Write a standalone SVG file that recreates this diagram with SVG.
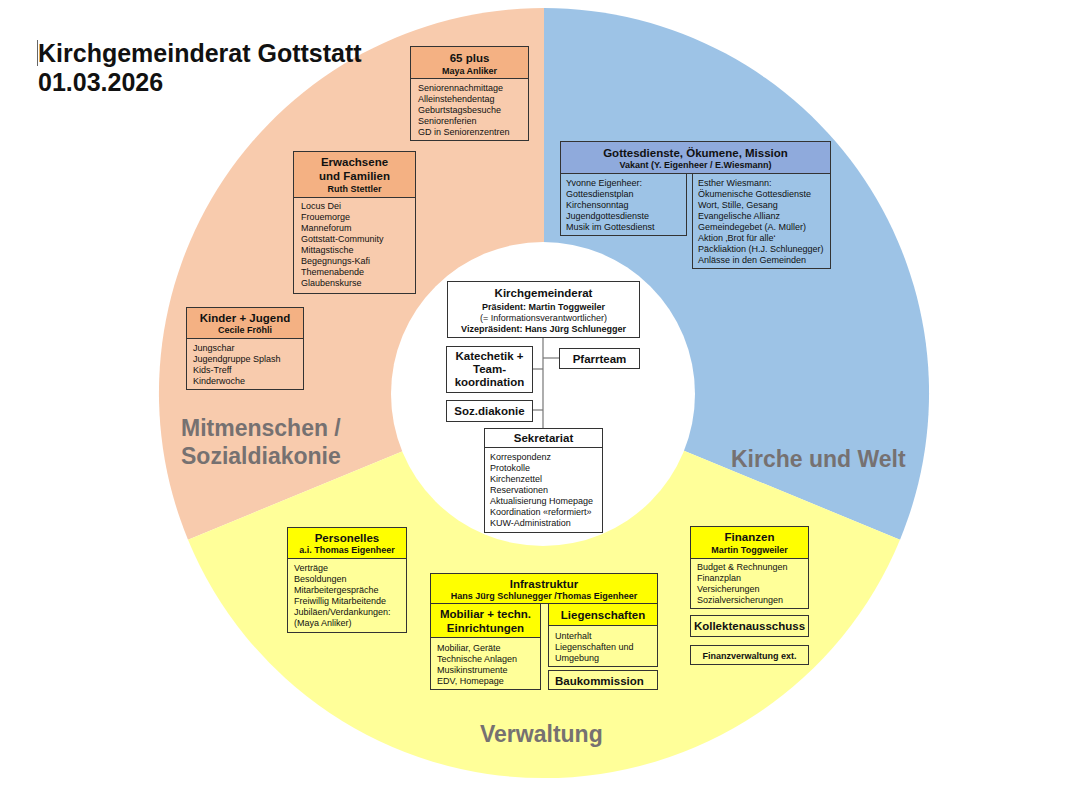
<svg xmlns="http://www.w3.org/2000/svg" width="1080" height="800" viewBox="0 0 1080 800">
<style>
text{font-family:"Liberation Sans",Arial,sans-serif;fill:#111}
.t{font-size:25px;font-weight:bold}
.ring{font-size:23px;font-weight:bold;fill:#767171}
.h{font-size:11.5px;font-weight:bold;text-anchor:middle}
.s{font-size:9px;font-weight:bold;text-anchor:middle}
.sn{font-size:9px;text-anchor:middle}
.b{font-size:9px}
.hl{font-size:11.5px;font-weight:bold}
.bx{stroke:#333;stroke-width:1}
.org{fill:#F4B183}
.orb{fill:#F8CBAD}
.blh{fill:#8FAADC}
.blb{fill:#9DC3E6}
.yeh{fill:#FFFF00}
.yeb{fill:#FFFF99}
.wh{fill:#fff}
.con{stroke:#777;stroke-width:1.2;fill:none}
</style>
<rect width="1080" height="800" fill="#fff"/>
<g id="ring">
<path d="M544,393 L544,8 A385,385 0 0,0 188,539.7 Z" fill="#F8CBAD"/>
<path d="M544,393 L544,8 A385,385 0 0,1 900,539.7 Z" fill="#9DC3E6"/>
<path d="M544,393 L188,539.7 A385,385 0 0,0 900,539.7 Z" fill="#FFFF99"/>
<circle cx="543" cy="394" r="152" fill="#fff"/>
<text class="ring" x="181" y="436">Mitmenschen /</text>
<text class="ring" x="181" y="464">Sozialdiakonie</text>
<text class="ring" x="731" y="467">Kirche und Welt</text>
<text class="ring" x="480" y="742">Verwaltung</text>
</g>
<g id="title">
<line x1="37.5" y1="40" x2="37.5" y2="66" stroke="#666" stroke-width="1"/>
<text class="t" x="38" y="62">Kirchgemeinderat Gottstatt</text>
<text class="t" x="38" y="91">01.03.2026</text>
</g>
<g id="connectors">
<line class="con" x1="543" y1="337" x2="543" y2="428"/>
<line class="con" x1="532" y1="369" x2="543" y2="369"/>
<line class="con" x1="543" y1="358" x2="559" y2="358"/>
<line class="con" x1="532" y1="410" x2="543" y2="410"/>
</g>
<g id="n65plus">
<rect class="bx org" x="410.5" y="46.5" width="118" height="32"/>
<rect class="bx orb" x="410.5" y="78.5" width="118" height="62"/>
<text class="h" x="469.5" y="62">65 plus</text>
<text class="s" x="469.5" y="74">Maya Anliker</text>
<text class="b" x="418" y="91">Seniorennachmittage</text>
<text class="b" x="418" y="102">Alleinstehendentag</text>
<text class="b" x="418" y="113">Geburtstagsbesuche</text>
<text class="b" x="418" y="124">Seniorenferien</text>
<text class="b" x="418" y="135">GD in Seniorenzentren</text>
</g>
<g id="erwachsene">
<rect class="bx org" x="293.5" y="151.5" width="122" height="46"/>
<rect class="bx orb" x="293.5" y="197.5" width="122" height="96"/>
<text class="h" x="354.5" y="166">Erwachsene</text>
<text class="h" x="354.5" y="180">und Familien</text>
<text class="s" x="354.5" y="192">Ruth Stettler</text>
<text class="b" x="301" y="209">Locus Dei</text>
<text class="b" x="301" y="220">Frouemorge</text>
<text class="b" x="301" y="231">Manneforum</text>
<text class="b" x="301" y="242">Gottstatt-Community</text>
<text class="b" x="301" y="253">Mittagstische</text>
<text class="b" x="301" y="264">Begegnungs-Kafi</text>
<text class="b" x="301" y="275">Themenabende</text>
<text class="b" x="301" y="286">Glaubenskurse</text>
</g>
<g id="kinder">
<rect class="bx org" x="186.5" y="307.5" width="117" height="31"/>
<rect class="bx orb" x="186.5" y="338.5" width="117" height="51"/>
<text class="h" x="245" y="322">Kinder + Jugend</text>
<text class="s" x="245" y="333">Cecile Fröhli</text>
<text class="b" x="193" y="351">Jungschar</text>
<text class="b" x="193" y="362">Jugendgruppe Splash</text>
<text class="b" x="193" y="373">Kids-Treff</text>
<text class="b" x="193" y="384">Kinderwoche</text>
</g>
<g id="gottesdienste">
<rect class="bx blh" x="560.5" y="141.5" width="270" height="32"/>
<rect class="bx blb" x="560.5" y="173.5" width="126" height="62"/>
<rect class="bx blb" x="692.5" y="173.5" width="138" height="95"/>
<text class="h" x="695.5" y="157">Gottesdienste, Ökumene, Mission</text>
<text class="s" x="695.5" y="168">Vakant (Y. Eigenheer / E.Wiesmann)</text>
<text class="b" x="566" y="186">Yvonne Eigenheer:</text>
<text class="b" x="566" y="197">Gottesdienstplan</text>
<text class="b" x="566" y="208">Kirchensonntag</text>
<text class="b" x="566" y="219">Jugendgottesdienste</text>
<text class="b" x="566" y="230">Musik im Gottesdienst</text>
<text class="b" x="698" y="186">Esther Wiesmann:</text>
<text class="b" x="698" y="197">Ökumenische Gottesdienste</text>
<text class="b" x="698" y="208">Wort, Stille, Gesang</text>
<text class="b" x="698" y="219">Evangelische Allianz</text>
<text class="b" x="698" y="230">Gemeindegebet (A. Müller)</text>
<text class="b" x="698" y="241">Aktion ‚Brot für alle‘</text>
<text class="b" x="698" y="252">Päckliaktion (H.J. Schlunegger)</text>
<text class="b" x="698" y="263">Anlässe in den Gemeinden</text>
</g>
<g id="kirchgemeinderat">
<rect class="bx wh" x="447.5" y="281.5" width="192" height="56"/>
<text class="h" x="543.5" y="297">Kirchgemeinderat</text>
<text class="s" x="543.5" y="310">Präsident: Martin Toggweiler</text>
<text class="sn" x="543.5" y="321">(= Informationsverantwortlicher)</text>
<text class="s" x="543.5" y="332">Vizepräsident: Hans Jürg Schlunegger</text>
</g>
<g id="katechetik">
<rect class="bx wh" x="446.5" y="346.5" width="86" height="46"/>
<text class="h" x="489.5" y="360">Katechetik +</text>
<text class="h" x="489.5" y="373">Team-</text>
<text class="h" x="489.5" y="386">koordination</text>
</g>
<g id="pfarrteam">
<rect class="bx wh" x="559.5" y="348.5" width="80" height="20"/>
<text class="h" x="599.5" y="362.5">Pfarrteam</text>
</g>
<g id="sozdiakonie">
<rect class="bx wh" x="446.5" y="400.5" width="86" height="21"/>
<text class="h" x="489.5" y="415">Soz.diakonie</text>
</g>
<g id="sekretariat">
<rect class="bx wh" x="484.5" y="428.5" width="118" height="104"/>
<line class="bx" x1="484.5" y1="447.5" x2="602.5" y2="447.5"/>
<text class="h" x="543.5" y="442">Sekretariat</text>
<text class="b" x="490" y="460">Korrespondenz</text>
<text class="b" x="490" y="471">Protokolle</text>
<text class="b" x="490" y="482">Kirchenzettel</text>
<text class="b" x="490" y="493">Reservationen</text>
<text class="b" x="490" y="504">Aktualisierung Homepage</text>
<text class="b" x="490" y="515">Koordination «reformiert»</text>
<text class="b" x="490" y="526">KUW-Administration</text>
</g>
<g id="personelles">
<rect class="bx yeh" x="287.5" y="527.5" width="119" height="31"/>
<rect class="bx yeb" x="287.5" y="558.5" width="119" height="74"/>
<text class="h" x="347" y="542">Personelles</text>
<text class="s" x="347" y="553">a.i. Thomas Eigenheer</text>
<text class="b" x="294" y="571">Verträge</text>
<text class="b" x="294" y="582">Besoldungen</text>
<text class="b" x="294" y="593">Mitarbeitergespräche</text>
<text class="b" x="294" y="604">Freiwillig Mitarbeitende</text>
<text class="b" x="294" y="615">Jubiläen/Verdankungen:</text>
<text class="b" x="294" y="626">(Maya Anliker)</text>
</g>
<g id="infrastruktur">
<rect class="bx yeh" x="430.5" y="573.5" width="227" height="30"/>
<text class="h" x="544" y="588">Infrastruktur</text>
<text class="s" x="544" y="599">Hans Jürg Schlunegger /Thomas Eigenheer</text>
</g>
<g id="mobiliar">
<rect class="bx yeh" x="430.5" y="603.5" width="110" height="34"/>
<rect class="bx yeb" x="430.5" y="637.5" width="110" height="52"/>
<text class="h" x="485.5" y="618">Mobiliar + techn.</text>
<text class="h" x="485.5" y="632">Einrichtungen</text>
<text class="b" x="437" y="651">Mobiliar, Geräte</text>
<text class="b" x="437" y="662">Technische Anlagen</text>
<text class="b" x="437" y="673">Musikinstrumente</text>
<text class="b" x="437" y="684">EDV, Homepage</text>
</g>
<g id="liegenschaften">
<rect class="bx yeh" x="548.5" y="603.5" width="109" height="22"/>
<rect class="bx yeb" x="548.5" y="625.5" width="109" height="41"/>
<text class="h" x="603" y="619">Liegenschaften</text>
<text class="b" x="555" y="639">Unterhalt</text>
<text class="b" x="555" y="650">Liegenschaften und</text>
<text class="b" x="555" y="661">Umgebung</text>
</g>
<g id="baukommission">
<rect class="bx yeb" x="548.5" y="670.5" width="109" height="19"/>
<text class="hl" x="555" y="684.5">Baukommission</text>
</g>
<g id="finanzen">
<rect class="bx yeh" x="690.5" y="526.5" width="118" height="32"/>
<rect class="bx yeb" x="690.5" y="558.5" width="118" height="50"/>
<text class="h" x="749.5" y="541">Finanzen</text>
<text class="s" x="749.5" y="553">Martin Toggweiler</text>
<text class="b" x="697" y="570">Budget &amp; Rechnungen</text>
<text class="b" x="697" y="581">Finanzplan</text>
<text class="b" x="697" y="592">Versicherungen</text>
<text class="b" x="697" y="603">Sozialversicherungen</text>
</g>
<g id="kollektenausschuss">
<rect class="bx yeb" x="690.5" y="615.5" width="118" height="21"/>
<text class="h" x="749.5" y="630">Kollektenausschuss</text>
</g>
<g id="finanzverwaltung">
<rect class="bx yeb" x="690.5" y="645.5" width="118" height="19"/>
<text class="s" x="749.5" y="658.5">Finanzverwaltung ext.</text>
</g>
</svg>
